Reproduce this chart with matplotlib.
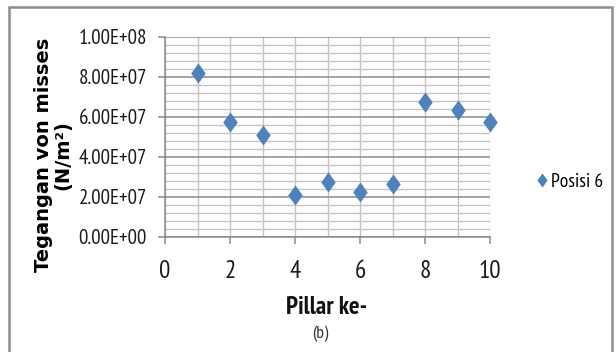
import matplotlib
matplotlib.use('Agg')
import matplotlib.pyplot as plt
from matplotlib.path import Path
from matplotlib.patches import Rectangle
from matplotlib.ticker import MultipleLocator, FuncFormatter

# Stress per pillar, position 6
pillar = [1, 2, 3, 4, 5, 6, 7, 8, 9, 10]
stress = [8.17e7, 5.72e7, 5.08e7, 2.08e7, 2.75e7, 2.25e7, 2.63e7, 6.75e7, 6.33e7, 5.72e7]
series_label = 'Posisi 6'

narrow = ['PT Sans Narrow', 'DejaVu Sans']
blue = '#4F81BD'

# tall diamond marker
diamond = Path([(0, 1), (0.72, 0), (0, -1), (-0.72, 0), (0, 1)],
               [Path.MOVETO, Path.LINETO, Path.LINETO, Path.LINETO, Path.CLOSEPOLY])

fig = plt.figure(figsize=(6.16, 3.52), dpi=100)
fig.patch.set_facecolor('white')

# outer chart border
fig.add_artist(Rectangle((9 / 616, -0.05), 603 / 616, 1 - 7 / 352 + 0.05,
                         transform=fig.transFigure, fill=False,
                         edgecolor='#8c8c8c', linewidth=1.8))

ax = fig.add_axes([165 / 616, 1 - 236.7 / 352, 325 / 616, 200 / 352])

ax.plot(pillar, stress, linestyle='none', marker=diamond, markersize=14.5,
        color=blue, markeredgewidth=0, label=series_label, zorder=5,
        clip_on=False)

ax.set_xlim(0, 10)
ax.set_ylim(0, 1e8)
ax.xaxis.set_major_locator(MultipleLocator(2))
ax.xaxis.set_minor_locator(MultipleLocator(1))
ax.yaxis.set_major_locator(MultipleLocator(2e7))
ax.yaxis.set_minor_locator(MultipleLocator(4e6))
ax.yaxis.set_major_formatter(FuncFormatter(lambda v, p: f'{v:.2E}'))

ax.grid(True, which='major', axis='y', color='#8a8a8a', linewidth=1.1)
ax.grid(True, which='minor', axis='y', color='#c4c4c4', linewidth=1.0)
ax.grid(True, which='both', axis='x', color='#c4c4c4', linewidth=1.0)
ax.set_axisbelow(True)

for s in ['top', 'right']:
    ax.spines[s].set_visible(False)
for s in ['left', 'bottom']:
    ax.spines[s].set_color('#8a8a8a')
    ax.spines[s].set_linewidth(1.1)

ax.tick_params(which='major', length=5, color='#8a8a8a', width=1.1)
ax.tick_params(which='minor', length=0)
ax.tick_params(axis='x', which='major', pad=12)
ax.tick_params(axis='y', which='major', pad=8)
for lbl in ax.get_xticklabels():
    lbl.set_family(narrow)
    lbl.set_fontsize(18)
    lbl.set_color('#1a1a1a')
for lbl in ax.get_yticklabels():
    lbl.set_family(narrow)
    lbl.set_fontsize(15)
    lbl.set_color('#1a1a1a')

ax.set_ylabel('Tegangan von misses\n(N/m²)', fontsize=14, fontweight='bold',
              family='DejaVu Sans', linespacing=1.05)
ax.yaxis.set_label_coords(-0.285, 0.41)

fig.text(327 / 616, 1 - 308 / 352, 'Pillar ke-', ha='center', va='center',
         fontsize=18, fontweight='bold', family=narrow, color='#111111')
fig.text(320 / 616, 1 - 334 / 352, '(b)', ha='center', va='center',
         fontsize=13, family=narrow, color='#333333')

leg = fig.legend(loc='center left', bbox_to_anchor=(520 / 616, 1 - 182 / 352),
                 frameon=False, prop={'family': narrow, 'size': 14},
                 handlelength=0.5, handletextpad=0.2, markerscale=0.7)

fig.savefig('out.png', dpi=100, facecolor='white')
